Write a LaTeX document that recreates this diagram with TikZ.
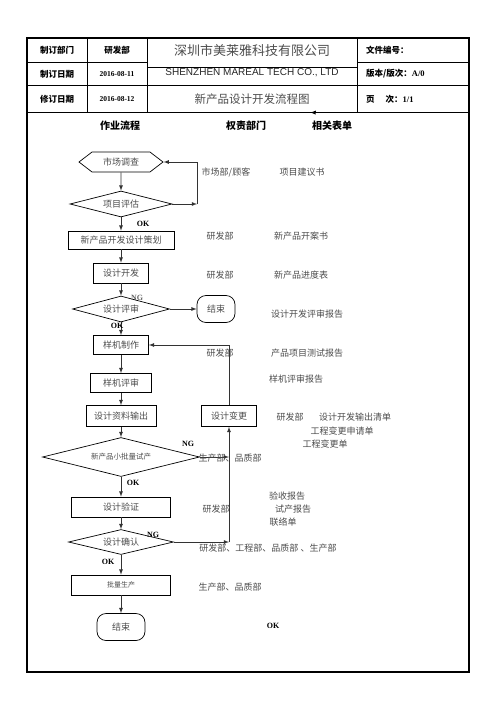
\documentclass[tikz,border=0pt]{standalone}
\usepackage{fontspec}
\setmainfont{Liberation Serif}
\newfontfamily\cjk{Noto Sans CJK SC}
\newfontfamily\arial{Liberation Sans}
\usetikzlibrary{
  shapes.geometric,
  shapes.symbols
  }

\begin{document}
\begin{tikzpicture}[x=1pt, y=-1pt, >=latex]
  \tikzstyle{every node}=[font=\cjk\fontsize{9}{10}\selectfont, text=black!70, inner sep=0pt]
  \tikzstyle{headtext}=[font=\cjk\bfseries\fontsize{8.5}{10}\selectfont, text=black]
  \tikzstyle{stepbox}=[draw=black, line width=0.7pt, rectangle, minimum height=19pt]
  \tikzstyle{choice}=[draw=black, line width=0.7pt, diamond, shape aspect=4]
  \tikzstyle{endbox}=[draw=black, line width=0.7pt, rectangle, rounded corners=9pt, minimum height=27pt]
  \tikzstyle{okng}=[font=\bfseries\fontsize{8}{9}\selectfont, text=black]
  \tikzstyle{flow}=[->, line width=0.8pt, black!80]
  \useasboundingbox (0,0) rectangle (496,702);
  %
  % frame and header table
  \draw[line width=1.6pt] (27,38) rectangle (469,672);
  \draw[line width=0.7pt] (27,62) -- (147,62) (357,62) -- (469,62)
    (147,67) -- (357,67)
    (27,85) -- (469,85)
    (27,112) -- (469,112)
    (87,38) -- (87,112) (147,38) -- (147,112) (357,38) -- (357,112);
  \node[headtext] (dept) at (57,50) {制订部门};
  \node[headtext] (mdate) at (57,74) {制订日期};
  \node[headtext] (rdate) at (57,99) {修订日期};
  \node[headtext] (rnd) at (117,50) {研发部};
  \node[okng, font=\bfseries\fontsize{7.5}{9}\selectfont] (d1) at (117,74) {2016-08-11};
  \node[okng, font=\bfseries\fontsize{7.5}{9}\selectfont] (d2) at (117,99) {2016-08-12};
  \node[font=\cjk\fontsize{13}{14}\selectfont] (corp) at (252,51) {深圳市美莱雅科技有限公司};
  \node[font=\arial\fontsize{10}{11}\selectfont, text=black!85] (corpen) at (252,73) {SHENZHEN MAREAL TECH CO., LTD};
  \node[font=\cjk\fontsize{11.5}{12}\selectfont] (title) at (252,99) {新产品设计开发流程图};
  \node[headtext, anchor=west] (docno) at (366,50) {文件编号：};
  \node[headtext, anchor=west] (ver) at (366,74) {版本/版次：{\rmfamily A/0}};
  \node[headtext, anchor=west] (page) at (366,99) {页\hspace{11pt}次：{\rmfamily 1/1}};
  \fill (311,112.5) -- (316,110.5) -- (315.5,114.5) -- cycle;
  %
  % column titles
  \node[headtext, font=\cjk\bfseries\fontsize{10}{11}\selectfont] (colflow) at (120,126) {作业流程};
  \node[headtext, font=\cjk\bfseries\fontsize{10}{11}\selectfont] (coldept) at (246,126) {权责部门};
  \node[headtext, font=\cjk\bfseries\fontsize{10}{11}\selectfont] (colform) at (332,126) {相关表单};
  %
  % process column
  \node[draw=black, line width=0.7pt, signal, signal to=west and east, signal pointer angle=75,
    minimum width=84pt, minimum height=20pt] (survey) at (121,162) {市场调查};
  \node[choice, minimum width=102pt, minimum height=26pt] (assess) at (121,204) {项目评估};
  \node[stepbox, minimum width=106pt, minimum height=18pt] (plan) at (121,240) {新产品开发设计策划};
  \node[stepbox, minimum width=55pt, minimum height=20pt] (dev) at (121,273) {设计开发};
  \node[choice, minimum width=97pt, minimum height=26pt] (review) at (121,309) {设计评审};
  \node[endbox, minimum width=38pt] (end1) at (216,309) {结束};
  \node[stepbox, minimum width=55pt] (proto) at (121,345) {样机制作};
  \node[stepbox, minimum width=61pt] (protorev) at (121,383) {样机评审};
  \node[stepbox, minimum width=70pt, minimum height=21pt] (output) at (121,416) {设计资料输出};
  \node[stepbox, minimum width=55pt, minimum height=21pt] (change) at (229,416) {设计变更};
  \node[choice, minimum width=157pt, minimum height=39pt, font=\cjk\fontsize{7.5}{8}\selectfont] (trial) at (121,457) {新产品小批量试产};
  \node[stepbox, minimum width=99pt, minimum height=20pt] (verify) at (121,507) {设计验证};
  \node[choice, minimum width=105pt, minimum height=25pt] (confirm) at (121,542) {设计确认};
  \node[stepbox, minimum width=99pt, minimum height=20pt, font=\cjk\fontsize{7}{8}\selectfont] (mass) at (121,585) {批量生产};
  \node[endbox, minimum width=48pt] (end2) at (121,627) {结束};
  %
  \coordinate (back) at (197,204);
  \draw[flow] (survey) -- (assess);
  \draw[flow] (assess.east) -- (back);
  \draw[flow] (back) |- (survey.east);
  \draw[flow] (assess) -- (plan);
  \draw[flow] (plan) -- (dev);
  \draw[flow] (dev) -- (review);
  \draw[flow] (review) -- (end1);
  \draw[flow] (review) -- (proto);
  \draw[flow] (change.north) |- (proto.east);
  \draw[flow] (proto) -- (protorev);
  \draw[flow] (protorev) -- (output);
  \draw[flow] (output) -- (trial);
  \draw[flow] (trial.east) -- (trial.east -| change.south);
  \draw[flow] (trial) -- (verify);
  \draw[flow] (verify) -- (confirm);
  \coordinate (ng) at (confirm.east -| change.south);
  \draw[flow] (confirm.east) -- (ng);
  \draw[flow] (ng) -- (change.south);
  \draw[flow] (confirm) -- (mass);
  \draw[flow] (mass) -- (end2);
  %
  % OK / NG marks
  \node[okng] (ok1) at (143,224) {OK};
  \node[okng, text=black!60] (ng1) at (137,298) {NG};
  \node[okng] (ok2) at (117,326) {OK};
  \node[okng] (ng2) at (188,444) {NG};
  \node[okng] (ok3) at (133,483) {OK};
  \node[okng] (ng3) at (153,535) {NG};
  \node[okng] (ok4) at (108,562) {OK};
  \node[okng] (ok5) at (273,626) {OK};
  %
  % departments and forms
  \node (d-survey) at (226,172) {市场部/顾客};
  \node (f-survey) at (302,172) {项目建议书};
  \node (d-plan) at (220,236) {研发部};
  \node (f-plan) at (301,236) {新产品开案书};
  \node (d-dev) at (220,275) {研发部};
  \node (f-dev) at (301,275) {新产品进度表};
  \node (f-review) at (307,314) {设计开发评审报告};
  \node (d-proto) at (220,353) {研发部};
  \node (f-proto) at (307,353) {产品项目测试报告};
  \node (f-protorev) at (296,379) {样机评审报告};
  \node (d-output) at (290,417) {研发部};
  \node (f-output) at (355,417) {设计开发输出清单};
  \node (f-req) at (342,431) {工程变更申请单};
  \node (f-change) at (325,444) {工程变更单};
  \node (d-trial) at (230,458) {生产部、品质部};
  \node (f-accept) at (287,496) {验收报告};
  \node (d-verify) at (216,509) {研发部};
  \node (f-trial) at (293,509) {试产报告};
  \node (f-contact) at (283,522) {联络单};
  \node (d-confirm) at (268,548) {研发部、工程部、品质部 、生产部};
  \node (d-mass) at (230,587) {生产部、品质部};
\end{tikzpicture}
\end{document}
